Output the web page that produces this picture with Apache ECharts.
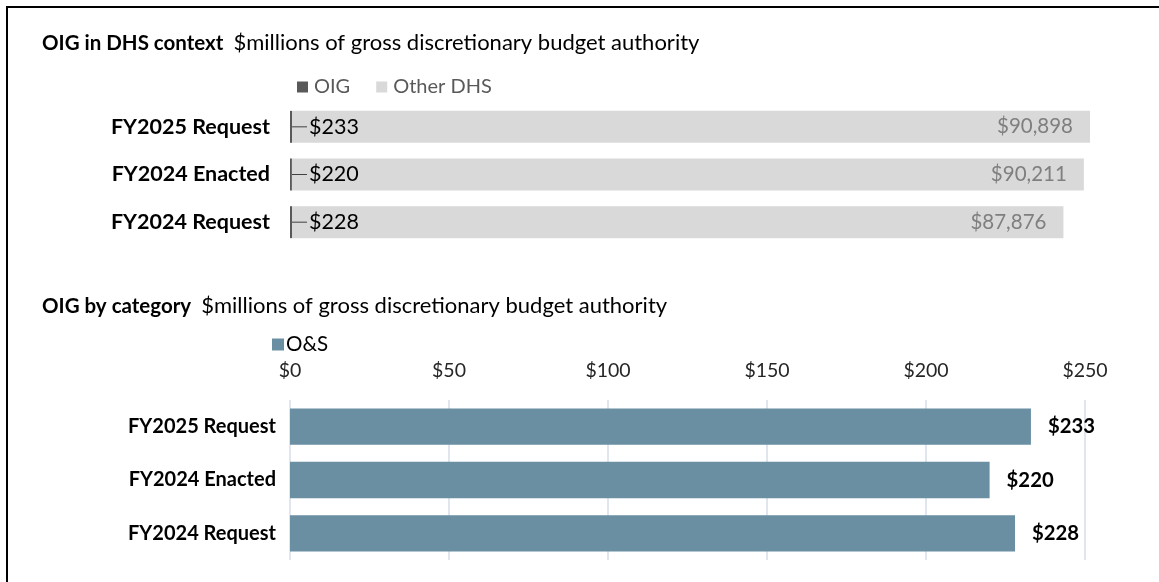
<!DOCTYPE html>
<html>
<head>
<meta charset="utf-8">
<script src="https://cdn.jsdelivr.net/npm/echarts@6/dist/echarts.min.js"></script>
<style>
  html, body { margin: 0; padding: 0; background: #fff; }
  #frame { position: absolute; left: 6px; top: 6px; width: 1153px; height: 576px; border-left: 2px solid #000; border-top: 2px solid #000; }
  #chart { position: absolute; left: 0; top: 0; width: 1159px; height: 582px; }
</style>
</head>
<body>
<div id="frame"></div>
<div id="chart"></div>
<script>
const categories = ['FY2025 Request', 'FY2024 Enacted', 'FY2024 Request'];
const oigValues = [233, 220, 228];
const otherDhsValues = [90898, 90211, 87876];
const osValues = [233, 220, 228];
const catTicks = [0, 50, 100, 150, 200, 250];

const FONT = 'Lato, "Open Sans", sans-serif';
const fmt = v => '$' + v.toLocaleString('en-US');
const topMax = Math.max(...oigValues.map((v, i) => v + otherDhsValues[i]));

const titleRich = {
  b: { fontFamily: FONT, fontWeight: 'bold', fontSize: 20.5, color: '#000', verticalAlign: 'middle' },
  s: { fontFamily: FONT, fontWeight: 'normal', fontSize: 20, color: '#000', width: 10, verticalAlign: 'middle' },
  n: { fontFamily: FONT, fontWeight: 'normal', fontSize: 22, color: '#000', verticalAlign: 'middle' }
};

const chart = echarts.init(document.getElementById('chart'), null, { renderer: 'canvas' });
chart.setOption({
  animation: false,
  textStyle: { fontFamily: FONT },
  title: [
    {
      left: 42, top: 32, padding: 0,
      text: '{b|OIG in DHS context}{s|}{n|$millions of gross discretionary budget authority}',
      textStyle: { fontWeight: 'normal', rich: titleRich }
    },
    {
      left: 42, top: 295, padding: 0,
      text: '{b|OIG by category}{s|}{n|$millions of gross discretionary budget authority}',
      textStyle: { fontWeight: 'normal', rich: titleRich }
    }
  ],
  legend: [
    {
      left: 292, top: 72, icon: 'rect', itemWidth: 11, itemHeight: 11, itemGap: 26,
      data: ['OIG', 'Other DHS'],
      textStyle: { fontFamily: FONT, fontSize: 20, color: '#595959', padding: [0, 0, 0, 1] }
    },
    {
      left: 267, top: 329, icon: 'rect', itemWidth: 12, itemHeight: 12,
      data: ['O&S'],
      textStyle: { fontFamily: FONT, fontSize: 20.5, color: '#000', padding: [0, 0, 0, -3] }
    }
  ],
  grid: [
    { left: 290, width: 800, top: 103, height: 143 },
    { left: 290, width: 795, top: 400, height: 160 }
  ],
  xAxis: [
    {
      gridIndex: 0, type: 'value', min: 0, max: topMax,
      show: false
    },
    {
      gridIndex: 1, type: 'value', position: 'top', min: catTicks[0], max: catTicks[catTicks.length - 1], interval: 50,
      axisLine: { show: false }, axisTick: { show: false },
      axisLabel: { formatter: v => '$' + v, fontFamily: FONT, fontSize: 19.5, color: '#262626', margin: 19 },
      splitLine: { lineStyle: { color: '#d5dee8', width: 1.5 } }
    }
  ],
  yAxis: [
    {
      gridIndex: 0, type: 'category', data: categories, inverse: true,
      axisLine: { show: false }, axisTick: { show: false },
      axisLabel: { fontFamily: FONT, fontWeight: 'bold', fontSize: 21.5, color: '#000', margin: 20 }
    },
    {
      gridIndex: 1, type: 'category', data: categories, inverse: true,
      axisLine: { show: false }, axisTick: { show: false },
      axisLabel: { fontFamily: FONT, fontWeight: 'bold', fontSize: 20, color: '#000', margin: 14 }
    }
  ],
  series: [
    {
      name: 'OIG', type: 'bar', stack: 'top', xAxisIndex: 0, yAxisIndex: 0,
      data: oigValues, barCategoryGap: '33%',
      itemStyle: { color: '#595959' },
      label: {
        show: true, position: 'right', distance: 0,
        formatter: p => '{l|}{v|' + fmt(p.value) + '}',
        rich: {
          l: { width: 15, height: 1, backgroundColor: '#404040', verticalAlign: 'middle' },
          v: { fontFamily: FONT, fontSize: 21.5, color: '#000', padding: [0, 0, 0, 2], verticalAlign: 'middle' }
        }
      }
    },
    {
      name: 'Other DHS', type: 'bar', stack: 'top', xAxisIndex: 0, yAxisIndex: 0,
      data: otherDhsValues, barCategoryGap: '33%',
      itemStyle: { color: '#d9d9d9' },
      label: {
        show: true, position: 'insideRight', distance: 17,
        formatter: p => fmt(p.value),
        fontFamily: FONT, fontSize: 20.5, color: '#7f7f7f'
      }
    },
    {
      name: 'O&S', type: 'bar', xAxisIndex: 1, yAxisIndex: 1,
      data: osValues, barCategoryGap: '32%',
      itemStyle: { color: '#6a8fa3' },
      label: {
        show: true, position: 'right', distance: 17,
        formatter: p => fmt(p.value),
        fontFamily: FONT, fontWeight: 'bold', fontSize: 20.3, color: '#000'
      }
    }
  ]
});
</script>
</body>
</html>
